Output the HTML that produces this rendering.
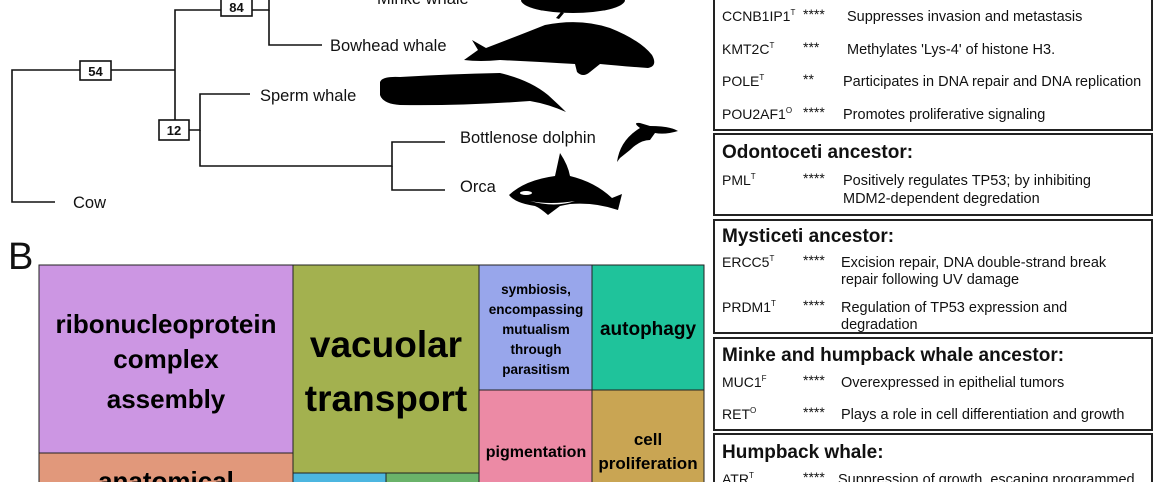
<!DOCTYPE html>
<html><head><style>
html,body{margin:0;padding:0;background:#fff;}
body{width:1160px;height:482px;overflow:hidden;position:relative;font-family:"Liberation Sans",Arial,sans-serif;}
svg{position:absolute;left:0;top:0;}
</style></head><body>
<svg width="1160" height="482" viewBox="0 0 1160 482" font-family="Liberation Sans, Arial, sans-serif">
<!-- Tree -->
<g stroke="#111" stroke-width="1.6" fill="none">
<path d="M55,202 H12 V70 H175"/>
<path d="M175,130 V10 H269 V0"/>
<path d="M269,10 V45 H322"/>
<path d="M189,130 H200 V94 H250"/>
<path d="M200,130 V166 H392 V142 H445"/>
<path d="M392,166 V190 H445"/>
</g>
<g fill="#fff" stroke="#111" stroke-width="1.6">
<rect x="80" y="61" width="31" height="19"/>
<rect x="221" y="-2" width="31" height="18"/>
<rect x="159" y="120" width="30" height="20"/>
</g>
<g font-weight="bold" font-size="13" text-anchor="middle" fill="#111">
<text x="95.5" y="76">54</text>
<text x="236.5" y="12">84</text>
<text x="174" y="135">12</text>
</g>
<g font-size="16.5" fill="#111">
<text x="377" y="4">Minke whale</text>
<text x="330" y="51">Bowhead whale</text>
<text x="260" y="101">Sperm whale</text>
<text x="460" y="143">Bottlenose dolphin</text>
<text x="460" y="192">Orca</text>
<text x="73" y="208">Cow</text>
</g>
<!-- silhouettes -->
<g fill="#000">
<ellipse cx="573" cy="0" rx="52" ry="13"/>
<path d="M556,18 L561,12 L564,13 L559,19Z"/>
<path d="M464,60 L478,50 L472,40 L486,48 Q520,35 545,25 Q580,18 610,28 Q640,40 652,55 Q658,66 648,68 Q620,66 600,64 L590,72 Q583,78 577,72 L575,64 Q540,62 500,60 Q480,62 464,60Z"/>
<path d="M380,82 Q382,76 400,77 Q450,74 500,73 Q530,80 548,95 Q560,106 566,112 Q548,104 530,101 Q460,106 400,105 Q383,104 380,95Z"/>
<path d="M617,162 Q620,140 640,128 Q632,122 640,123 L650,126 Q670,126 678,131 Q665,135 655,133 L650,140 Q640,140 630,150 L620,158Z"/>
<path d="M509,195 Q525,180 555,176 L560,153 Q568,165 570,176 Q595,182 612,198 L622,194 L618,210 Q595,202 570,204 L560,206 Q552,212 548,215 Q540,208 535,206 Q515,203 509,195Z"/>
</g>
<ellipse cx="526" cy="193" rx="6" ry="2" fill="#fff"/>
<path d="M530,201 Q550,205 575,201 Q555,208 530,201Z" fill="#fff"/>
<!-- B -->
<text x="8" y="269" font-size="38" fill="#111">B</text>
<!-- Treemap -->
<g stroke="#222" stroke-width="1">
<rect x="39" y="265" width="254" height="188" fill="#cc96e3"/>
<rect x="39" y="453" width="254" height="32" fill="#e1987b"/>
<rect x="293" y="265" width="186" height="208" fill="#a3b14f"/>
<rect x="293" y="473" width="93" height="12" fill="#4cb6e0"/>
<rect x="386" y="473" width="93" height="12" fill="#6ab36a"/>
<rect x="479" y="265" width="113" height="125" fill="#98a6eb"/>
<rect x="592" y="265" width="112" height="125" fill="#1fc39b"/>
<rect x="479" y="390" width="113" height="95" fill="#ec8aa5"/>
<rect x="592" y="390" width="112" height="95" fill="#c9a553"/>
</g>
<g font-weight="bold" fill="#000" text-anchor="middle">
<text font-size="26" x="166" y="333">ribonucleoprotein</text>
<text font-size="26" x="166" y="368">complex</text>
<text font-size="26" x="166" y="408">assembly</text>
<text font-size="26" x="166" y="490">anatomical</text>
<text font-size="37" x="386" y="357">vacuolar</text>
<text font-size="37" x="386" y="411">transport</text>
<text font-size="13.5" x="536" y="294">symbiosis,</text>
<text font-size="13.5" x="536" y="314">encompassing</text>
<text font-size="13.5" x="536" y="334">mutualism</text>
<text font-size="13.5" x="536" y="354">through</text>
<text font-size="13.5" x="536" y="374">parasitism</text>
<text font-size="19" x="648" y="335">autophagy</text>
<text font-size="16" x="536" y="457">pigmentation</text>
<text font-size="17" x="648" y="445">cell</text>
<text font-size="17" x="648" y="469">proliferation</text>
</g>
<!-- Right panel -->
<g fill="none" stroke="#222" stroke-width="2">
<rect x="714" y="-5" width="438" height="135"/>
<rect x="714" y="134" width="438" height="81"/>
<rect x="714" y="220" width="438" height="113"/>
<rect x="714" y="338" width="438" height="92"/>
<rect x="714" y="434" width="438" height="60"/>
</g>
<g font-size="14" fill="#111">
<text x="722" y="21">CCNB1IP1<tspan font-size="8" dy="-6">T</tspan></text><text x="803" y="19">****</text><text x="847" y="21" font-size="14.5">Suppresses invasion and metastasis</text>
<text x="722" y="54">KMT2C<tspan font-size="8" dy="-6">T</tspan></text><text x="803" y="52">***</text><text x="847" y="54" font-size="14.5">Methylates 'Lys-4' of histone H3.</text>
<text x="722" y="86">POLE<tspan font-size="8" dy="-6">T</tspan></text><text x="803" y="84">**</text><text x="843" y="86" font-size="14.5">Participates in DNA repair and DNA replication</text>
<text x="722" y="119">POU2AF1<tspan font-size="8" dy="-6">O</tspan></text><text x="803" y="117">****</text><text x="843" y="119" font-size="14.5">Promotes proliferative signaling</text>
<text x="722" y="185">PML<tspan font-size="8" dy="-6">T</tspan></text><text x="803" y="183">****</text><text x="843" y="185" font-size="14.5">Positively regulates TP53; by inhibiting</text>
<text x="843" y="203" font-size="14.5">MDM2-dependent degredation</text>
<text x="722" y="267">ERCC5<tspan font-size="8" dy="-6">T</tspan></text><text x="803" y="265">****</text><text x="841" y="267" font-size="14.5">Excision repair, DNA double-strand break</text>
<text x="841" y="284" font-size="14.5">repair following UV damage</text>
<text x="722" y="312">PRDM1<tspan font-size="8" dy="-6">T</tspan></text><text x="803" y="310">****</text><text x="841" y="312" font-size="14.5">Regulation of TP53 expression and</text>
<text x="841" y="329" font-size="14.5">degradation</text>
<text x="722" y="387">MUC1<tspan font-size="8" dy="-6">F</tspan></text><text x="803" y="385">****</text><text x="841" y="387" font-size="14.5">Overexpressed in epithelial tumors</text>
<text x="722" y="419">RET<tspan font-size="8" dy="-6">O</tspan></text><text x="803" y="417">****</text><text x="841" y="419" font-size="14.5">Plays a role in cell differentiation and growth</text>
<text x="722" y="484">ATR<tspan font-size="8" dy="-6">T</tspan></text><text x="803" y="482">****</text><text x="838" y="484" font-size="14.5">Suppression of growth, escaping programmed</text>
</g>
<g font-size="19" font-weight="bold" fill="#111">
<text x="722" y="158">Odontoceti ancestor:</text>
<text x="722" y="242">Mysticeti ancestor:</text>
<text x="722" y="361">Minke and humpback whale ancestor:</text>
<text x="722" y="458">Humpback whale:</text>
</g>
</svg>
</body></html>
